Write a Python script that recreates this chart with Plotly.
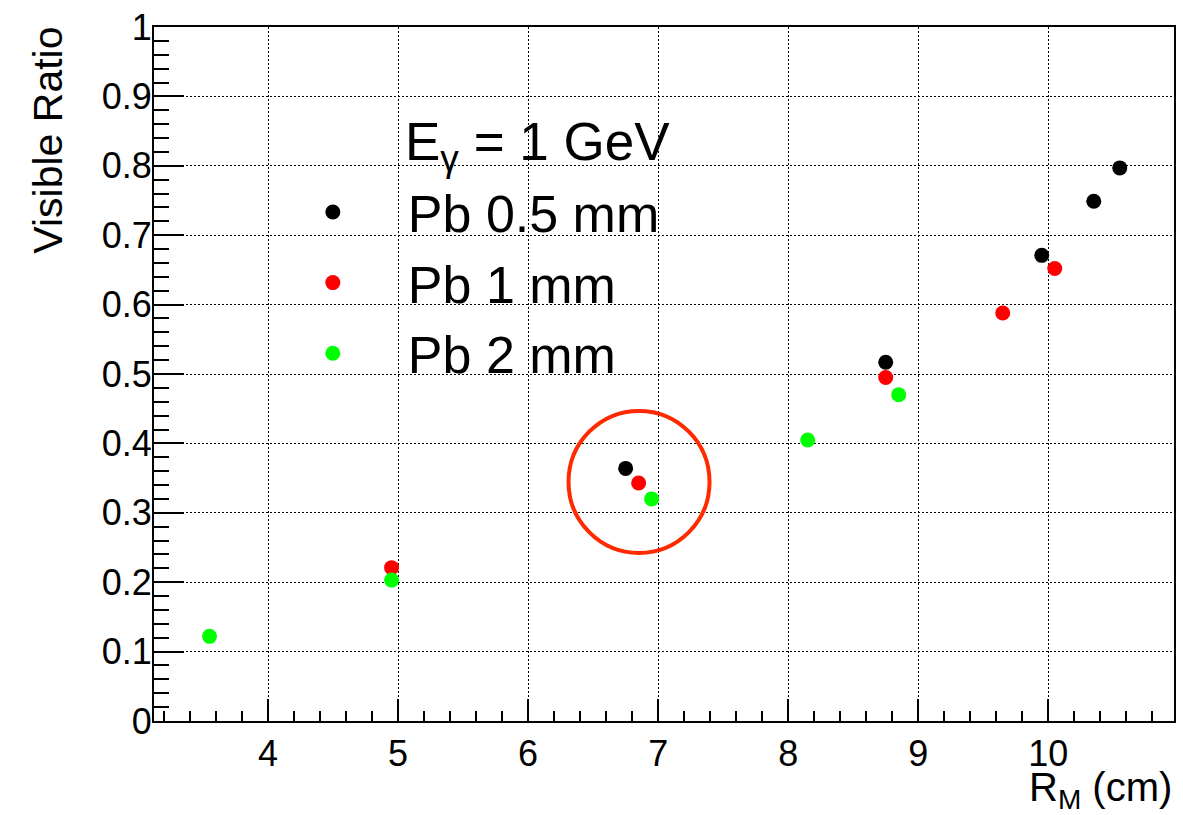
import plotly.graph_objects as go

# --- data ---
series_names = ["Pb 0.5 mm", "Pb 1 mm", "Pb 2 mm"]
series_colors = ["#000000", "#ff0000", "#00ff00"]

x_pb05 = [6.75, 8.75, 9.95, 10.35, 10.55]
y_pb05 = [0.364, 0.517, 0.671, 0.749, 0.797]

x_pb1 = [4.95, 6.85, 8.75, 9.65, 10.05]
y_pb1 = [0.221, 0.343, 0.495, 0.588, 0.652]

x_pb2 = [3.55, 4.95, 6.95, 8.15, 8.85]
y_pb2 = [0.122, 0.203, 0.320, 0.405, 0.470]

highlight_center = (6.853, 0.3445)

x_range = [3.123, 10.967]
y_range = [0.0, 1.0]

FONT = "Liberation Sans, Arial, Helvetica, sans-serif"

fig = go.Figure()
for i, (xs, ys) in enumerate([(x_pb05, y_pb05), (x_pb1, y_pb1), (x_pb2, y_pb2)]):
    fig.add_trace(go.Scatter(
        x=xs, y=ys, mode="markers", name=series_names[i],
        legendgroup=series_names[i],
        marker=dict(color=series_colors[i], size=15, line=dict(width=0)),
    ))

fig.add_shape(
    type="circle", xref="x", yref="y",
    xsizemode="pixel", ysizemode="pixel",
    xanchor=highlight_center[0], yanchor=highlight_center[1],
    x0=-70.5, x1=70.5, y0=-71, y1=71,
    line=dict(color="#ff2a00", width=4),
)

axis_common = dict(
    showline=True, linecolor="black", linewidth=2, mirror=True,
    showgrid=True, gridcolor="black", gridwidth=1, griddash="2px,2px",
    zeroline=False, ticks="inside", tickcolor="black", tickwidth=2,
    tickfont=dict(family=FONT, size=36, color="black"),
)

fig.update_xaxes(
    range=x_range, dtick=1, tick0=0, ticklen=22,
    minor=dict(ticks="inside", ticklen=10, dtick=0.2, tick0=0, showgrid=False,
               tickcolor="black", tickwidth=2),
    **axis_common,
)
fig.update_yaxes(
    range=y_range, dtick=0.1, tick0=0, ticklen=30,
    minor=dict(ticks="inside", ticklen=15, dtick=0.02, tick0=0, showgrid=False,
               tickcolor="black", tickwidth=2),
    ticklabelstandoff=-7,
    **axis_common,
)

fig.add_annotation(
    text="Visible Ratio", textangle=-90, xref="paper", yref="paper",
    x=-0.1037, y=1.003, xanchor="center", yanchor="top", showarrow=False,
    font=dict(family=FONT, size=41, color="black"),
)
fig.add_annotation(
    text="R<sub>M</sub> (cm)", xref="paper", yref="paper",
    x=1.0, y=-0.060, xanchor="right", yanchor="top", showarrow=False,
    font=dict(family=FONT, size=40, color="black"),
)
fig.add_annotation(
    text="E<sub>γ</sub> = 1 GeV", xref="paper", yref="paper",
    x=0.244, y=0.881, xanchor="left", yanchor="top", showarrow=False,
    font=dict(family=FONT, size=53, color="black"),
)

fig.update_layout(
    width=1183, height=815,
    margin=dict(l=154, r=7, t=25, b=94),
    paper_bgcolor="white", plot_bgcolor="white",
    showlegend=True,
    legend=dict(
        x=0.1018, y=0.7915, xanchor="left", yanchor="top",
        bgcolor="rgba(0,0,0,0)", borderwidth=0,
        font=dict(family=FONT, size=52, color="black"),
        itemwidth=140, tracegroupgap=0, traceorder="grouped",
    ),
)

fig.write_html("out.html")
